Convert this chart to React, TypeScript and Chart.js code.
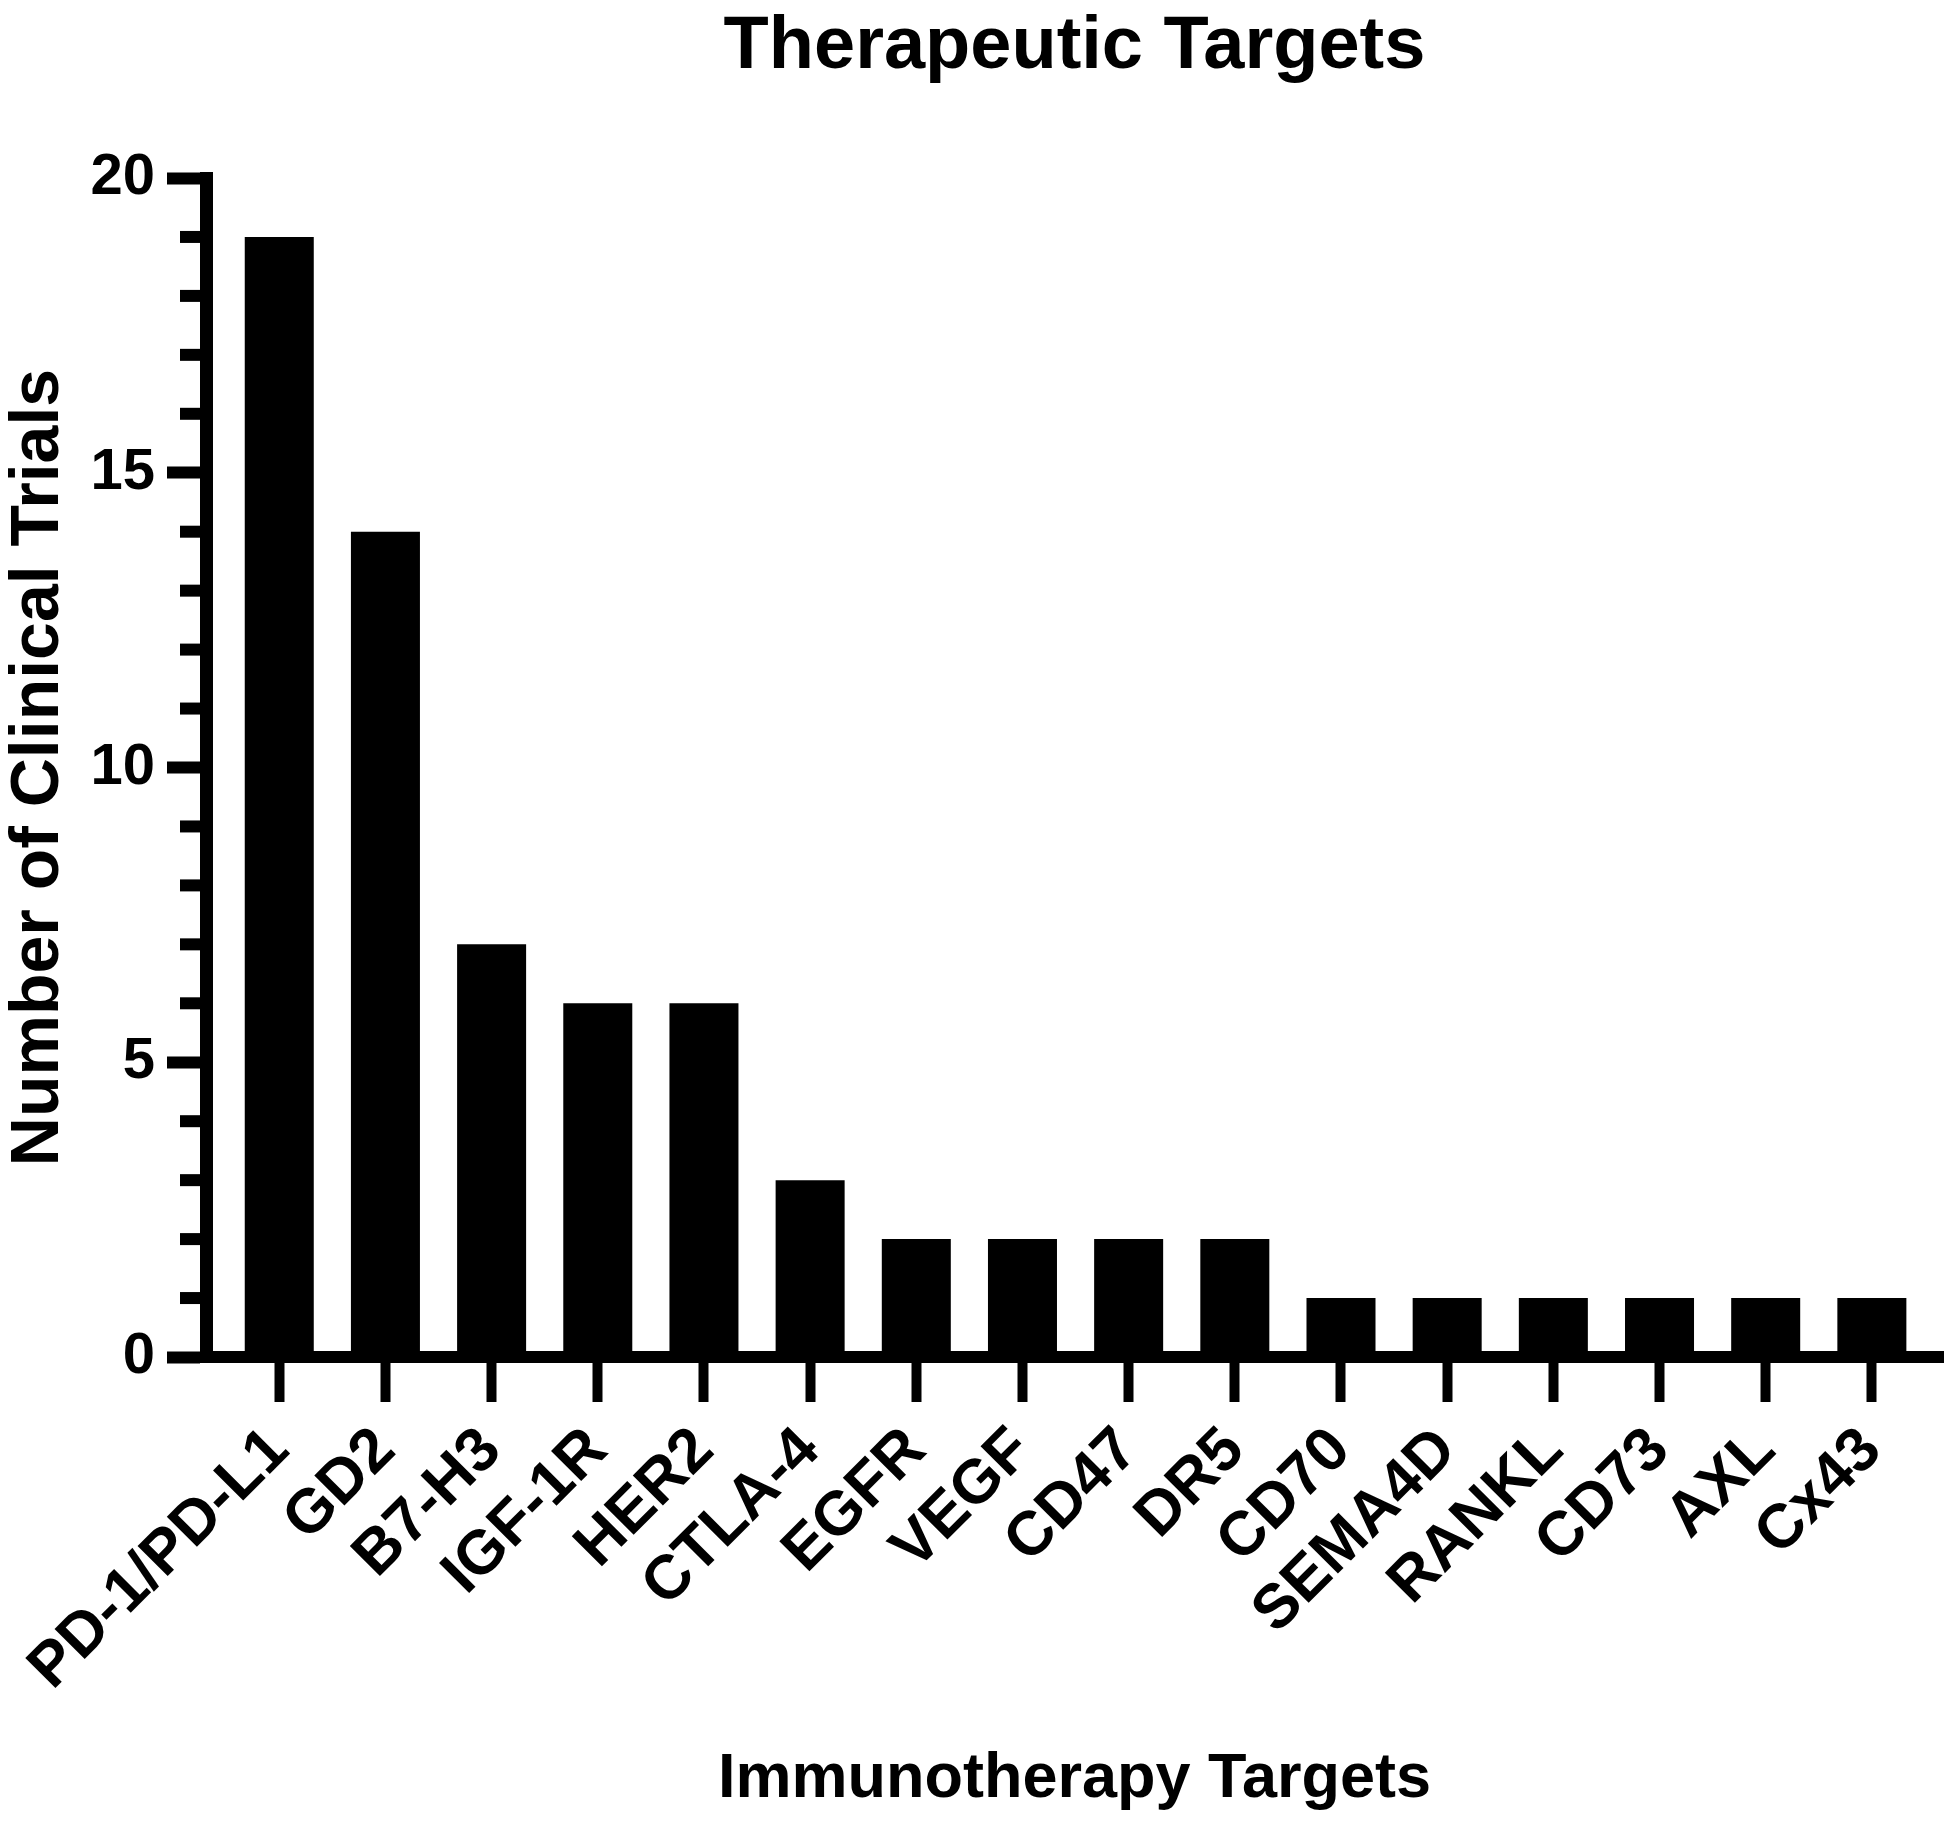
import React, { useEffect, useRef } from "react";
import { Chart, registerables } from "chart.js";

Chart.register(...registerables);

const categories = [
  "PD-1/PD-L1", "GD2", "B7-H3", "IGF-1R", "HER2", "CTLA-4", "EGFR", "VEGF",
  "CD47", "DR5", "CD70", "SEMA4D", "RANKL", "CD73", "AXL", "Cx43",
];
const trialCounts = [19, 14, 7, 6, 6, 3, 2, 2, 2, 2, 1, 1, 1, 1, 1, 1];
const yTickValues = [0, 5, 10, 15, 20];
const yMinorStep = 1;
const chartTitle = "Therapeutic Targets";
const xAxisTitle = "Immunotherapy Targets";
const yAxisTitle = "Number of Clinical Trials";

const FONT = "'Liberation Sans', Arial, Helvetica, sans-serif";

const minorTicksPlugin = {
  id: "minorTicks",
  afterDraw(chart: any) {
    const ys = chart.scales.y;
    const ctx = chart.ctx;
    const left = chart.chartArea.left;
    ctx.save();
    ctx.strokeStyle = "#000";
    ctx.lineWidth = 12;
    for (let v = ys.min; v <= ys.max; v += yMinorStep) {
      if (yTickValues.includes(v)) continue;
      const py = ys.getPixelForValue(v);
      ctx.beginPath();
      ctx.moveTo(left, py);
      ctx.lineTo(left - 26, py);
      ctx.stroke();
    }
    ctx.restore();
  },
};

const centeredTitlePlugin = {
  id: "centeredTitle",
  afterDraw(chart: any) {
    const ctx = chart.ctx;
    const { left, right } = chart.chartArea;
    ctx.save();
    ctx.fillStyle = "#000";
    ctx.font = `bold 74px ${FONT}`;
    ctx.textAlign = "center";
    ctx.textBaseline = "alphabetic";
    ctx.fillText(chartTitle, (left + right) / 2, 68);
    ctx.restore();
  },
};

export default function App() {
  const ref = useRef<HTMLCanvasElement | null>(null);

  useEffect(() => {
    if (!ref.current) return;
    const chart = new Chart(ref.current, {
      type: "bar",
      data: {
        datasets: [
          {
            data: trialCounts.map((v, i) => ({ x: i, y: v })),
            backgroundColor: "#000",
            borderWidth: 0,
            barPercentage: 0.65,
            categoryPercentage: 1,
          },
        ],
      },
      options: {
        animation: false,
        responsive: false,
        maintainAspectRatio: false,
        layout: { padding: { left: 0, right: 7, top: 178, bottom: 0 } },
        plugins: {
          legend: { display: false },
          tooltip: { enabled: false },
          title: { display: false },
        },
        scales: {
          x: {
            type: "linear",
            min: -0.69,
            max: 15.67,
            offset: false,
            afterFit(s: any) {
              s.height = 470;
            },
            grid: {
              offset: false,
              drawOnChartArea: false,
              drawTicks: true,
              tickLength: 45,
              tickWidth: 10,
              tickColor: "#000",
              color: "#000",
            },
            border: { display: true, width: 12, color: "#000" },
            ticks: {
              stepSize: 1,
              includeBounds: false,
              autoSkip: false,
              maxRotation: 45,
              minRotation: 45,
              padding: 12,
              color: "#000",
              font: { family: FONT, size: 62, weight: "bold" },
              callback: (v: any) =>
                Number.isInteger(v) && categories[v] !== undefined ? categories[v] : "",
            },
            title: {
              display: true,
              text: xAxisTitle,
              color: "#000",
              font: { family: FONT, size: 63, weight: "bold", lineHeight: 1.2 },
              padding: { top: 0, bottom: 10 },
            },
          },
          y: {
            min: 0,
            max: 20,
            afterFit(s: any) {
              s.width = 206;
            },
            afterBuildTicks(s: any) {
              s.ticks = yTickValues.map((v) => ({ value: v }));
            },
            grid: {
              drawOnChartArea: false,
              drawTicks: true,
              tickLength: 39,
              tickWidth: 12,
              tickColor: "#000",
              color: "#000",
            },
            border: { display: true, width: 13, color: "#000" },
            ticks: {
              padding: 12,
              color: "#000",
              font: { family: FONT, size: 58, weight: "bold" },
            },
            title: {
              display: true,
              text: yAxisTitle,
              color: "#000",
              font: { family: FONT, size: 68, weight: "bold", lineHeight: 1.1 },
              padding: { top: 2, bottom: 0 },
            },
          },
        },
      } as any,
      plugins: [minorTicksPlugin, centeredTitlePlugin],
    });
    return () => chart.destroy();
  }, []);

  return (
    <div style={{ position: "absolute", left: 0, top: 0, width: 1950, height: 1827, background: "#fff" }}>
      <canvas ref={ref} width={1950} height={1827} style={{ display: "block", width: 1950, height: 1827 }} />
    </div>
  );
}
